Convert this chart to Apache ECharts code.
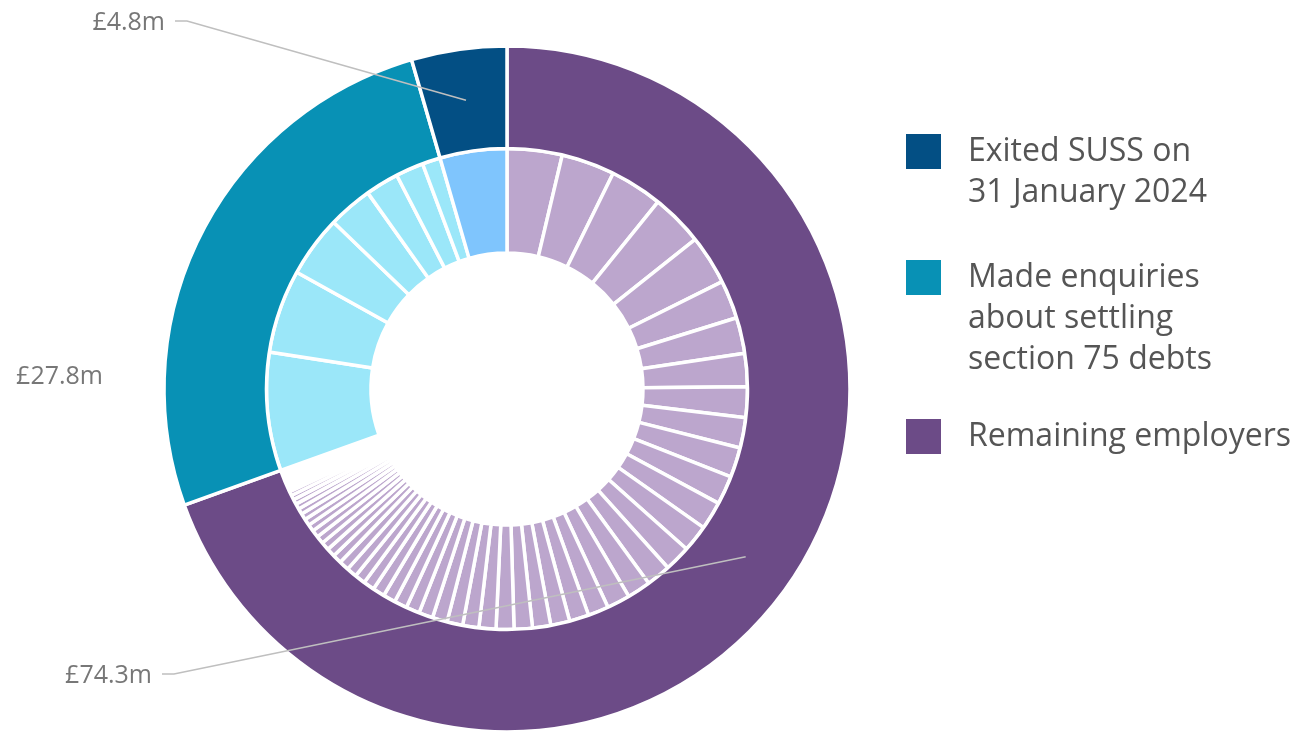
<!DOCTYPE html>
<html>
<head>
<meta charset="utf-8">
<script src="https://cdn.jsdelivr.net/npm/echarts@6/dist/echarts.min.js"></script>
<style>
  html, body { margin: 0; padding: 0; background: #ffffff; }
  #chart { width: 1304px; height: 731px; }
</style>
</head>
<body>
<div id="chart"></div>
<script>
// Scheme groups, drawn clockwise from 12 o'clock (£m)
const groupNames = ['Remaining employers', 'Made enquiries about settling section 75 debts', 'Exited SUSS on 31 January 2024'];
const groupValues = [74.3, 27.8, 4.8];
const groupColors = ['#6c4b87', '#0891b5', '#034f84'];
const employerColors = ['#bca6cd', '#9be7f9', '#7fc5fd'];

// Individual employers within each group (£m), largest first
const remainingEmployers = [
  3.95, 3.83, 3.77, 3.74, 3.56, 2.76, 2.58, 2.38, 2.20, 2.17, 2.14, 2.08, 2.02, 1.93, 1.87,
  1.75, 1.69, 1.66, 1.48, 1.40, 1.37, 1.31, 1.31,
  1.28, 1.22, 1.16, 1.13, 1.07, 1.01, 0.98, 0.92, 0.89, 0.86, 0.80, 0.77, 0.74, 0.71,
  0.65, 0.62, 0.59, 0.56, 0.53, 0.50, 0.48, 0.45, 0.42, 0.39, 0.36, 0.33, 0.30,
  0.24, 0.21, 0.18, 0.16, 0.14, 0.13, 0.12, 0.11, 0.10, 0.09, 0.08, 0.07
];
const enquiryEmployers = [8.5, 6.0, 4.4, 3.2, 2.4, 2.0, 1.3];
const exitedEmployers = [4.8];

// Legend entries, top to bottom, one array entry per text line
const legendOrder = ['Exited SUSS on 31 January 2024', 'Made enquiries about settling section 75 debts', 'Remaining employers'];
const legendLines = [
  ['Exited SUSS on', '31 January 2024'],
  ['Made enquiries', 'about settling', 'section 75 debts'],
  ['Remaining employers']
];

// Value label placement (per group) and the elbow of each leader line
const labelSpots = [
  { x: 152, y: 676, elbow: [[174, 674], [162, 674]] },
  { x: 103, y: 377, elbow: null },
  { x: 165, y: 23, elbow: [[187, 21], [175, 21]] }
];
const legendTop = [90, 175, 416];

const CENTER = [507, 389];
const BORDER = 3.5;

const chart = echarts.init(document.getElementById('chart'), null, { renderer: 'canvas' });

const innerData = []
  .concat(remainingEmployers.map(v => ({ value: v, itemStyle: { color: employerColors[0] } })))
  .concat(enquiryEmployers.map(v => ({ value: v, itemStyle: { color: employerColors[1] } })))
  .concat(exitedEmployers.map(v => ({ value: v, itemStyle: { color: employerColors[2] } })));

const outerData = groupNames.map((name, i) => ({
  name: name,
  value: groupValues[i],
  itemStyle: { color: groupColors[i] }
}));

// Value labels sit at fixed spots beside the ring
function placeLabel(p) {
  const spot = labelSpots[p.dataIndex];
  return { x: spot.x, y: spot.y, align: 'right', verticalAlign: 'middle' };
}

// Legend text is centred on its swatch, so pad with blank lines above
// to bring the first line level with the swatch.
function legendLabel(i) {
  const lines = legendLines[i];
  const pad = [];
  for (let k = 1; k < lines.length; k++) pad.push('');
  return pad.concat(lines).join('\n');
}

const legends = legendOrder.map((name, i) => ({
  data: [name],
  orient: 'vertical',
  left: 906,
  top: legendTop[i],
  padding: 0,
  icon: 'rect',
  itemWidth: 35,
  itemHeight: 35,
  selectedMode: false,
  itemStyle: { borderWidth: 0 },
  formatter: () => legendLabel(i),
  textStyle: {
    fontFamily: 'Open Sans',
    fontWeight: 400,
    fontSize: 32,
    lineHeight: 41,
    color: '#555555',
    padding: [0, 0, 0, 22]
  }
}));

chart.setOption({
  animation: false,
  backgroundColor: '#ffffff',
  legend: legends,
  series: [
    {
      type: 'pie',
      name: 'Employers',
      center: CENTER,
      radius: [136, 240.5],
      startAngle: 90,
      clockwise: true,
      silent: true,
      avoidLabelOverlap: false,
      label: { show: false },
      labelLine: { show: false },
      itemStyle: { borderColor: '#ffffff', borderWidth: BORDER },
      data: innerData
    },
    {
      type: 'pie',
      name: 'Groups',
      center: CENTER,
      radius: [240.5, 343],
      startAngle: 90,
      clockwise: true,
      silent: true,
      avoidLabelOverlap: false,
      itemStyle: { borderColor: '#ffffff', borderWidth: BORDER },
      label: {
        show: true,
        position: 'outside',
        formatter: p => '£' + p.value.toFixed(1) + 'm',
        fontFamily: 'Open Sans',
        fontSize: 25,
        color: '#777777'
      },
      labelLine: { show: false },
      labelLayout: placeLabel,
      data: outerData
    }
  ]
});

// Leader lines run from each label to the middle of its ring segment,
// drawn over both rings.
const groupsData = chart.getModel().getSeriesByIndex(1).getData();
const leaders = [];
labelSpots.forEach((spot, i) => {
  if (!spot.elbow) return;
  const lay = groupsData.getItemLayout(i);
  const mid = (lay.startAngle + lay.endAngle) / 2;
  const rm = (lay.r + lay.r0) / 2;
  leaders.push({
    type: 'polyline',
    z: 100,
    silent: true,
    shape: {
      points: [
        [lay.cx + rm * Math.cos(mid), lay.cy + rm * Math.sin(mid)],
        spot.elbow[0],
        spot.elbow[1]
      ]
    },
    style: { stroke: '#bfbfbf', lineWidth: 1.6, fill: null }
  });
});
chart.setOption({ graphic: leaders });
</script>
</body>
</html>
